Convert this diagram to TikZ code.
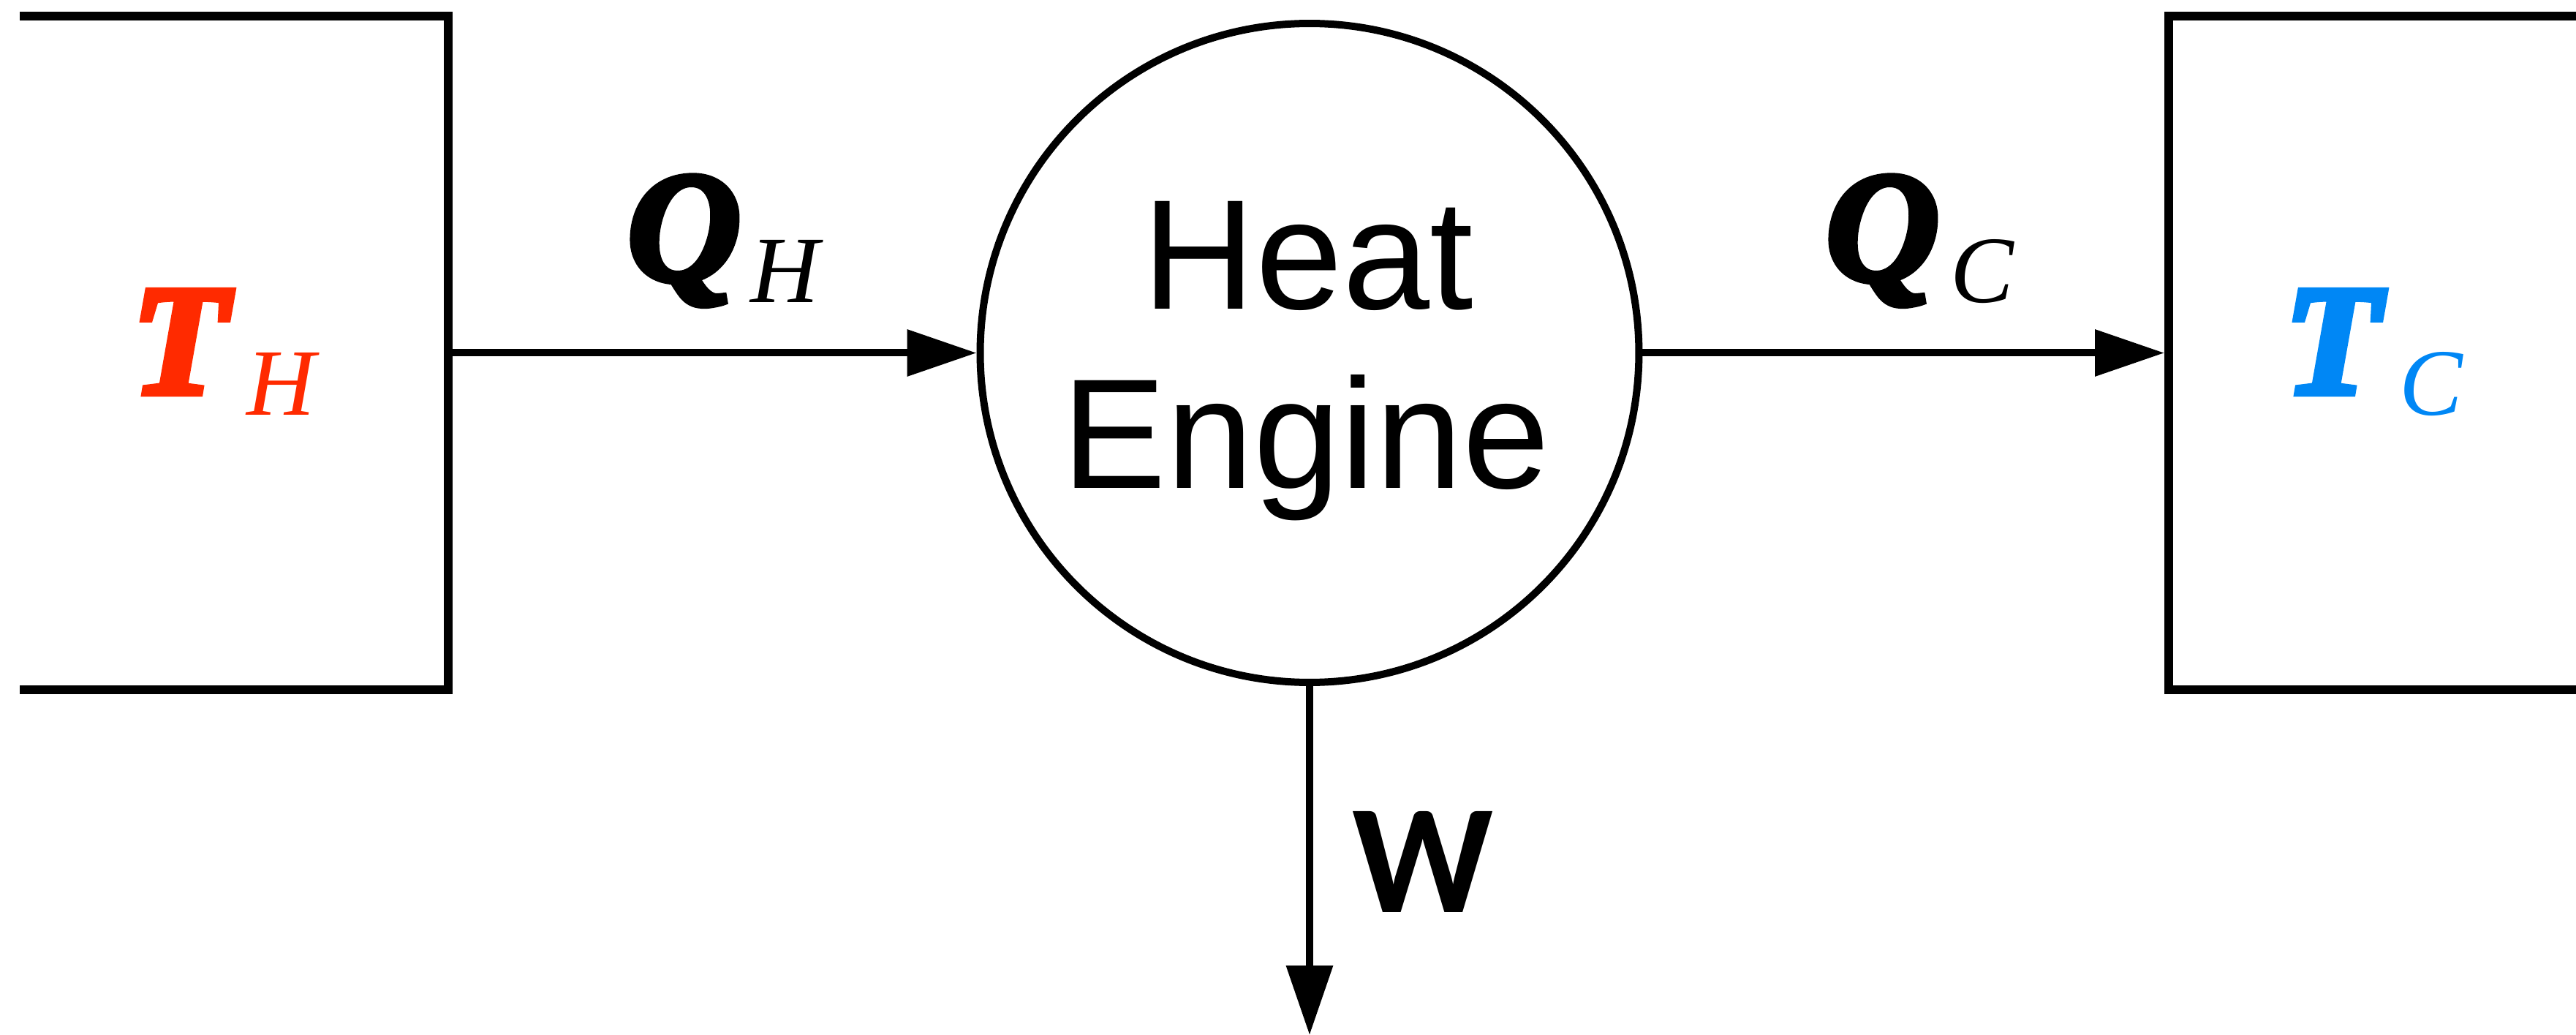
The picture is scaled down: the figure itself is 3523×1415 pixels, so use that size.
\documentclass[tikz,border=0pt]{standalone}
\usepackage{fontspec}
\usetikzlibrary{arrows.meta}
\newfontfamily\arialf{Liberation Sans}
\newfontfamily\calf{Carlito}
\newfontface\tnrbi{Liberation Serif Bold Italic}[FakeBold=4]
\newfontface\tnri{Liberation Serif Italic}
\definecolor{hotc}{RGB}{255,42,0}
\definecolor{coldc}{RGB}{0,135,245}
\newcommand{\symlab}[3]{{\tnrbi\fontsize{21.5pt}{26pt}\selectfont #1}\kern#3\raisebox{-3pt}{\tnri\fontsize{13pt}{15pt}\selectfont #2}}
\tikzset{
  boxline/.style={line width=1.25pt, line join=miter},
  arr/.style={line width=1pt, -{Triangle[length=9.5pt,width=6.2pt]}},
  engine/.style={circle, draw, line width=1pt, minimum size=90.1pt, inner sep=0pt},
  reservoir/.style={rectangle, minimum width=58.6pt, minimum height=92.1pt, inner sep=0pt, outer sep=0pt},
  lab/.style={anchor=base west, inner sep=0pt, outer sep=0pt},
  txt/.style={anchor=base, inner sep=0pt, outer sep=0pt},
}
\begin{document}
\begin{tikzpicture}[x=0.1pt,y=-0.1pt]
\useasboundingbox (0,0) rectangle (3523,1415);
\node[reservoir] (hot) at (320,482.5) {};
\node[reservoir] (cold) at (3259,482.5) {};
\node[engine] (eng) at (1791,482.5) {};
\node[lab, text=hotc] (th) at (180,538) {\symlab{T}{H}{2.6pt}};
\node[lab, text=coldc] (tc) at (3124,538) {\symlab{T}{C}{2.6pt}};
\node[lab] (qh) at (858,383) {\symlab{Q}{H}{1.3pt}};
\node[lab] (qc) at (2497,383) {\symlab{Q}{C}{1.5pt}};
\node[txt] (heat) at (1789,423) {\arialf\fontsize{21.4pt}{25pt}\selectfont Heat};
\node[txt] (engtxt) at (1786,668) {\arialf\fontsize{21.4pt}{25pt}\selectfont Engine};
\node[lab] (w) at (1850,1248) {\calf\bfseries\fontsize{21.3pt}{25pt}\selectfont W};
\coordinate (wend) at (1791,1415);
\draw[boxline] (hot.north west) -- (hot.north east) -- (hot.south east) -- (hot.south west);
\draw[boxline] (cold.north east) -- (cold.north west) -- (cold.south west) -- (cold.south east);
\draw[arr] (hot.east) -- (eng.west);
\draw[arr, shorten >=0.6pt] (eng.east) -- (cold.west);
\draw[arr] (eng.south) -- (wend);
\end{tikzpicture}
\end{document}
